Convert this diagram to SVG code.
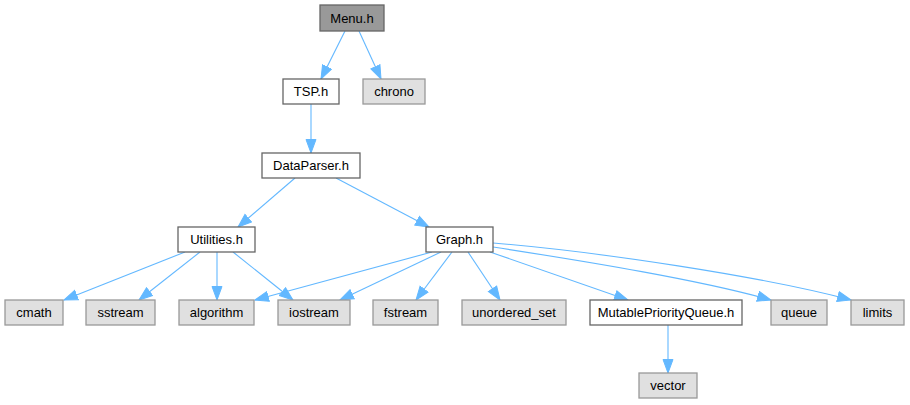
<svg xmlns="http://www.w3.org/2000/svg" width="910" height="405" viewBox="0 0 910 405">
<defs>
<style>
.n rect{stroke-width:1.3}
.w rect{fill:#ffffff;stroke:#666666}
.g rect{fill:#e0e0e0;stroke:#999999}
.m rect{fill:#999999;stroke:#666666}
text{font-family:"Liberation Sans",Arial,Helvetica,sans-serif;font-size:13px;fill:#000;text-anchor:middle}
.e path{fill:none;stroke:#63b8ff;stroke-width:1.1;marker-end:url(#ah)}
</style>
<marker id="ah" markerUnits="userSpaceOnUse" markerWidth="15" markerHeight="12" refX="14" refY="6" orient="auto">
<path d="M0.5,1 L14,6 L0.5,11 Z" fill="#63b8ff" stroke="#63b8ff" stroke-width="1"/>
</marker>
</defs>
<rect width="910" height="405" fill="#ffffff"/>
<g id="edges" class="e">
<path d="M345,31 L321,79"/>
<path d="M359,31 L381,79"/>
<path d="M311,104 L311,153"/>
<path d="M295,178 L238,227"/>
<path d="M336,178 L429,227"/>
<path d="M185,252 L64,300"/>
<path d="M200,252 L139,300"/>
<path d="M217,252 L217,300"/>
<path d="M233,252 L293,300"/>
<path d="M432,252 L255,300"/>
<path d="M441,252 L340,300"/>
<path d="M452,252 L416,300"/>
<path d="M468,252 L500,300"/>
<path d="M490,252 L628,300"/>
<path d="M493,247 C590,262 700,280 771,300"/>
<path d="M493,243 C600,252 760,276 851,300"/>
<path d="M668,325 L668,373"/>
</g>
<g id="menu" class="n m"><rect x="320" y="5" width="64" height="26"/><text x="352" y="22.5">Menu.h</text></g>
<g id="tsp" class="n w"><rect x="283" y="79" width="56" height="25"/><text x="311" y="96">TSP.h</text></g>
<g id="chrono" class="n g"><rect x="363" y="79" width="62" height="25"/><text x="394" y="96">chrono</text></g>
<g id="dataparser" class="n w"><rect x="262" y="153" width="98" height="25"/><text x="311" y="170">DataParser.h</text></g>
<g id="utilities" class="n w"><rect x="178" y="227" width="77" height="25"/><text x="216.5" y="244">Utilities.h</text></g>
<g id="graph" class="n w"><rect x="426" y="227" width="67" height="25"/><text x="459.5" y="244">Graph.h</text></g>
<g id="cmath" class="n g"><rect x="5" y="300" width="58" height="25"/><text x="34" y="317">cmath</text></g>
<g id="sstream" class="n g"><rect x="86" y="300" width="69" height="25"/><text x="120.5" y="317">sstream</text></g>
<g id="algorithm" class="n g"><rect x="179" y="300" width="75" height="25"/><text x="216.5" y="317">algorithm</text></g>
<g id="iostream" class="n g"><rect x="278" y="300" width="72" height="25"/><text x="314" y="317">iostream</text></g>
<g id="fstream" class="n g"><rect x="373" y="300" width="65" height="25"/><text x="405.5" y="317">fstream</text></g>
<g id="unordered_set" class="n g"><rect x="462" y="300" width="104" height="25"/><text x="514" y="317">unordered_set</text></g>
<g id="mpq" class="n w"><rect x="590" y="300" width="152" height="25"/><text x="666" y="317">MutablePriorityQueue.h</text></g>
<g id="queue" class="n g"><rect x="771" y="300" width="56" height="25"/><text x="799" y="317">queue</text></g>
<g id="limits" class="n g"><rect x="851" y="300" width="53" height="25"/><text x="877.5" y="317">limits</text></g>
<g id="vector" class="n g"><rect x="639" y="373" width="58" height="25"/><text x="668" y="390">vector</text></g>
</svg>
